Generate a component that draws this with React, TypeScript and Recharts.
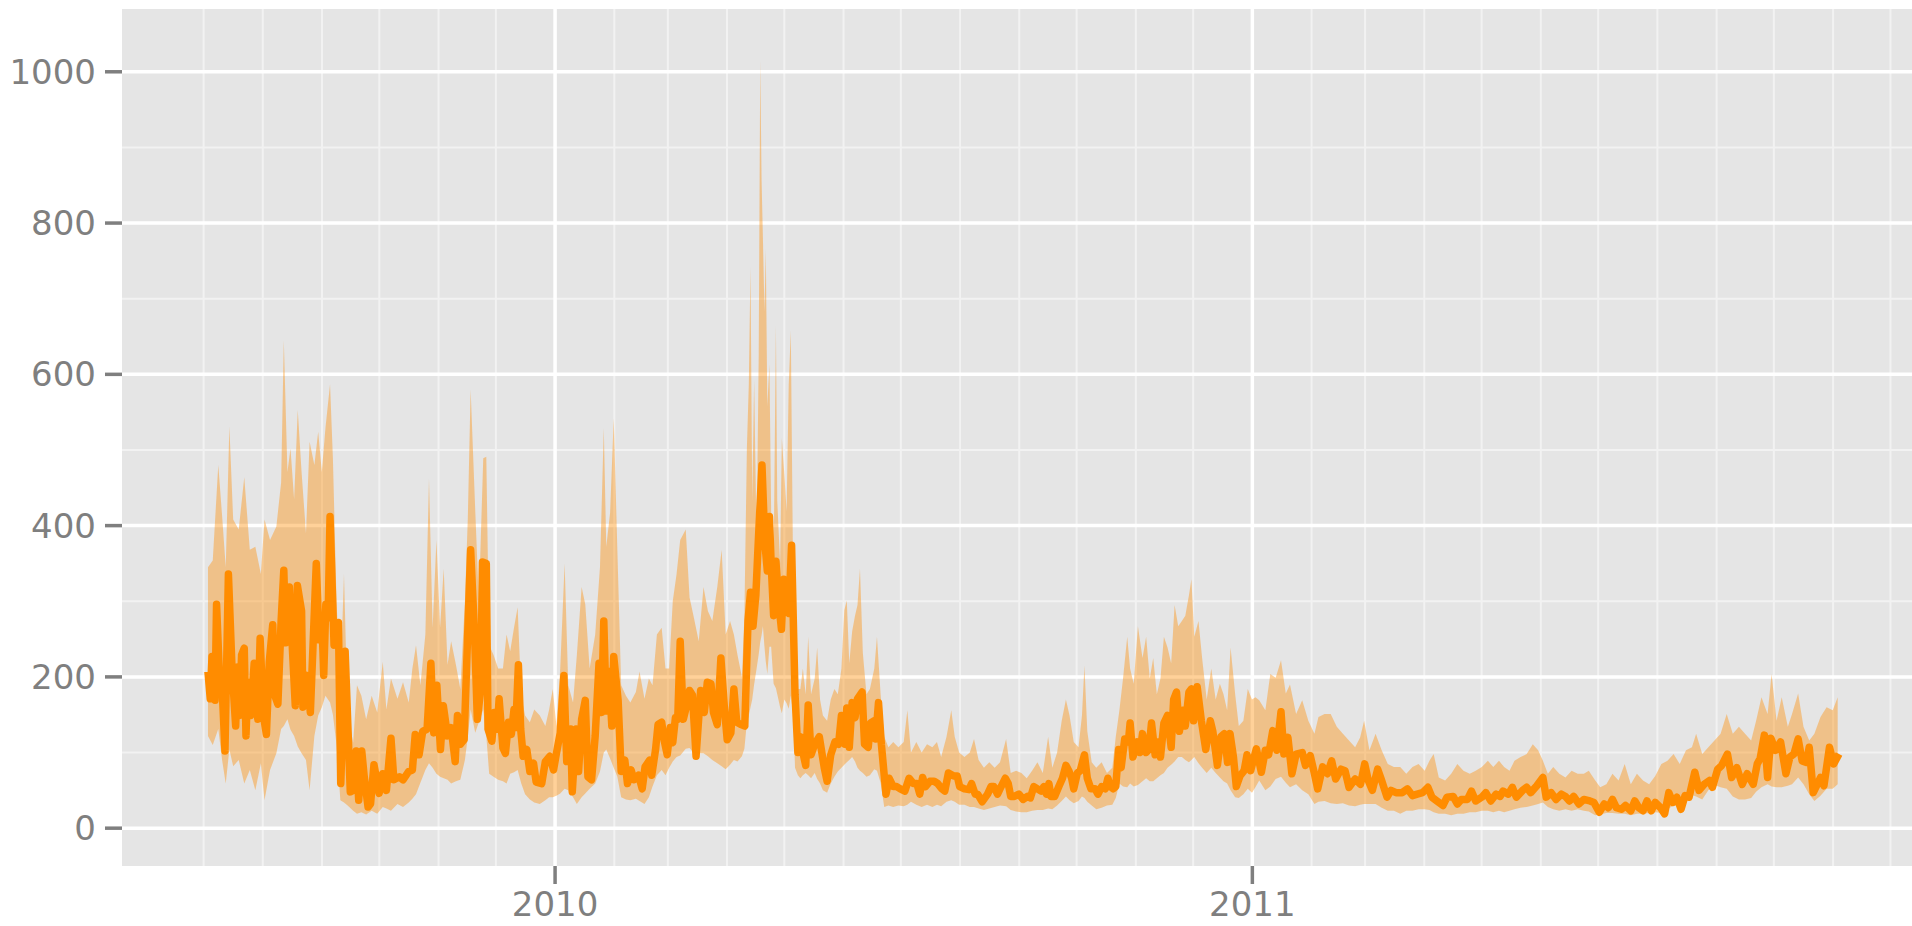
import { ComposedChart, Area, Line, XAxis, YAxis, CartesianGrid } from 'recharts';

// x values are days counted from 1 July 2009
const DAY0 = Date.UTC(2009, 6, 1);
const dayOf = (y: number, m: number) => (Date.UTC(y, m - 1, 1) - DAY0) / 86400000;

const yearTicks = [dayOf(2010, 1), dayOf(2011, 1)];
const yearLabels = ['2010', '2011'];
const monthLines = Array.from({ length: 30 }, (_, i) => dayOf(2009, 7 + i));
const yMajor = [0, 200, 400, 600, 800, 1000];
const yMinor = [100, 300, 500, 700, 900];

// band: [day, low, high]
const band2009: [number, number, number][] = [
  [2.3, 122, 345], [4.8, 110, 354], [7.7, 131, 480], [9.7, 90, 413], [11.6, 59, 345], [13.5, 104, 531],
  [15.5, 82, 408], [18.4, 90, 395], [21.3, 59, 464], [24.2, 77, 368], [27.1, 50, 372], [30.0, 86, 336],
  [31.9, 37, 408], [34.8, 77, 381], [38.1, 99, 399], [40.6, 131, 457], [42.0, 135, 645], [43.9, 144, 471],
  [45.5, 130, 502], [47.4, 122, 435], [49.3, 108, 553], [51.3, 99, 471], [53.6, 90, 390], [55.5, 50, 511],
  [58.0, 122, 480], [60.0, 149, 524], [61.9, 160, 471], [63.8, 175, 529], [66.2, 166, 587], [67.7, 150, 489],
  [69.6, 110, 300], [71.6, 37, 189], [73.5, 34, 336], [75.4, 30, 153], [78.3, 23, 113], [80.3, 19, 189],
  [82.6, 21, 175], [85.1, 18, 144], [88.0, 23, 175], [90.9, 19, 153], [93.8, 28, 220], [95.7, 26, 157],
  [98.1, 23, 198], [101.5, 32, 171], [104.4, 28, 193], [107.4, 34, 166], [109.3, 39, 211], [111.2, 45, 242],
  [113.5, 60, 189], [116.1, 77, 256], [118.0, 86, 462], [119.9, 80, 265], [121.9, 72, 381], [123.8, 68, 265],
  [125.7, 66, 343], [127.7, 64, 216], [129.6, 59, 247], [132.1, 62, 216], [134.4, 64, 184], [136.8, 90, 300],
  [138.3, 120, 408], [139.8, 157, 580], [142.2, 126, 421], [144.1, 140, 300], [146.4, 157, 489], [148.0, 122, 491],
  [149.5, 72, 242], [151.8, 68, 229], [154.2, 64, 211], [156.7, 62, 211], [158.6, 59, 256], [160.5, 72, 234],
  [162.5, 74, 265], [164.4, 77, 292], [166.3, 59, 175], [168.3, 45, 149], [170.8, 38, 140], [173.1, 34, 157],
  [176.0, 32, 149], [178.9, 37, 135], [180.9, 41, 157], [182.8, 41, 184],
];

const band2010: [number, number, number][] = [
  [184.7, 43, 135], [186.7, 46, 211], [189.0, 52, 350], [190.9, 50, 189], [193.4, 41, 166], [195.4, 32, 229],
  [197.9, 41, 319], [199.8, 46, 296], [202.1, 52, 211], [205.0, 59, 256], [207.5, 75, 345], [209.5, 100, 529],
  [210.8, 104, 372], [212.8, 92, 417], [214.7, 80, 542], [216.6, 68, 368], [218.6, 41, 189], [221.1, 38, 175],
  [223.4, 37, 166], [226.3, 39, 180], [228.2, 36, 207], [230.8, 32, 171], [233.1, 41, 198], [235.0, 55, 189],
  [237.3, 70, 256], [239.8, 77, 265], [241.8, 70, 211], [243.7, 80, 211], [245.6, 88, 300], [247.6, 94, 336],
  [249.5, 96, 381], [252.4, 105, 395], [254.4, 106, 305], [256.7, 99, 278], [259.2, 99, 247], [261.7, 99, 319],
  [264.0, 95, 287], [266.3, 90, 274], [268.9, 86, 319], [271.2, 82, 368], [273.3, 78, 256], [275.6, 84, 274],
  [277.6, 90, 256], [279.5, 88, 229], [281.8, 95, 200], [283.1, 105, 281], [284.4, 140, 502], [285.4, 149, 586],
  [286.3, 160, 742], [287.2, 170, 433], [288.2, 190, 593], [289.5, 211, 378], [290.6, 230, 627], [291.4, 246, 1015],
  [292.1, 255, 856], [292.8, 267, 780], [293.6, 240, 683], [294.3, 220, 766], [295.1, 204, 558], [296.2, 240, 613],
  [297.1, 240, 419], [298.4, 191, 350], [299.6, 185, 665], [300.3, 177, 433], [301.8, 160, 350], [302.7, 152, 516],
  [304.0, 170, 468], [305.2, 165, 419], [306.3, 158, 586], [307.4, 175, 658], [308.7, 150, 308], [309.6, 80, 204],
  [311.1, 70, 184], [312.4, 66, 184], [313.7, 70, 211], [315.2, 73, 177], [316.5, 70, 253], [318.0, 66, 177],
  [319.9, 73, 198], [321.2, 65, 239], [322.7, 59, 170], [324.2, 50, 149], [326.4, 47, 142], [328.3, 59, 170],
  [330.2, 68, 184], [332.0, 75, 177], [333.9, 80, 211], [335.4, 84, 288], [336.7, 87, 301], [338.0, 90, 218],
  [339.5, 94, 260], [341.0, 88, 281], [342.3, 80, 295], [343.6, 76, 343], [345.1, 73, 232], [347.0, 68, 177],
  [348.8, 70, 184], [351.1, 78, 211], [352.5, 76, 253], [354.4, 60, 177], [356.3, 28, 121], [358.5, 30, 107],
  [361.0, 28, 114], [363.7, 30, 107], [366.5, 29, 114], [368.4, 31, 156], [370.3, 35, 100], [373.1, 31, 114],
  [375.9, 28, 100], [378.7, 31, 111], [381.5, 28, 107], [383.9, 31, 114], [386.1, 29, 94], [388.9, 35, 121],
  [391.4, 37, 156], [393.2, 35, 121], [395.5, 31, 100], [398.3, 31, 94], [401.1, 28, 100], [403.3, 28, 118],
  [405.7, 26, 90], [408.5, 24, 80], [411.3, 26, 87], [414.1, 28, 80], [416.9, 30, 87], [420.1, 29, 118],
  [422.5, 24, 73], [425.3, 22, 76], [428.1, 21, 73], [430.9, 21, 66], [433.7, 23, 76], [436.5, 24, 87],
  [439.3, 24, 73], [442.1, 26, 121], [444.3, 25, 80], [446.8, 30, 100], [449.2, 36, 142], [451.4, 42, 170],
  [453.3, 37, 149], [455.5, 33, 114], [458.0, 36, 107], [459.8, 42, 149], [461.1, 40, 215], [462.6, 35, 128],
  [464.9, 30, 87], [467.3, 25, 80], [470.1, 27, 87], [472.9, 30, 73], [475.7, 31, 80], [477.5, 40, 121],
  [479.4, 59, 156], [481.3, 55, 198], [483.5, 54, 253], [485.0, 59, 211], [486.9, 55, 191], [489.1, 57, 267],
  [491.5, 62, 225], [493.4, 66, 253], [495.3, 62, 198], [497.1, 62, 225], [499.0, 66, 177], [500.9, 70, 198],
  [502.7, 73, 253], [504.6, 80, 239], [506.5, 84, 218], [508.3, 88, 295], [510.2, 94, 267], [512.1, 94, 274],
  [513.9, 90, 281], [515.8, 87, 308], [517.1, 90, 329], [518.6, 94, 253], [520.8, 86, 274], [522.7, 80, 225],
  [525.1, 73, 170], [527.5, 80, 211], [529.8, 73, 170], [532.0, 67, 191], [533.9, 62, 177], [535.8, 59, 156],
  [537.6, 50, 239], [540.0, 41, 177], [541.9, 40, 135], [544.3, 45, 142], [546.6, 52, 184], [548.8, 47, 170],
];

const band2011: [number, number, number][] = [
  [550.6, 54, 173], [552.6, 63, 169], [555.8, 50, 156], [558.4, 55, 204], [561.2, 65, 199], [564.0, 68, 222],
  [566.5, 60, 178], [568.7, 54, 190], [571.9, 58, 151], [575.1, 50, 169], [578.3, 45, 142], [581.5, 32, 125],
  [583.6, 35, 147], [586.8, 36, 151], [590.0, 33, 151], [593.2, 32, 134], [596.4, 33, 125], [599.6, 30, 116],
  [602.8, 29, 107], [605.4, 31, 120], [607.5, 32, 142], [610.3, 32, 103], [613.5, 32, 125], [616.7, 27, 103],
  [619.9, 23, 85], [623.1, 23, 81], [626.4, 19, 81], [629.6, 23, 72], [632.8, 23, 81], [636.0, 25, 85],
  [639.2, 25, 76], [641.7, 24, 89], [643.9, 21, 98], [646.6, 19, 67], [649.9, 19, 63], [653.1, 17, 72],
  [656.3, 19, 85], [659.5, 19, 76], [662.8, 21, 72], [665.9, 21, 76], [669.1, 23, 81], [672.3, 23, 89],
  [675.1, 21, 81], [678.1, 23, 89], [680.8, 21, 81], [683.6, 23, 76], [686.2, 25, 89], [689.4, 27, 94],
  [692.6, 28, 98], [695.8, 30, 111], [698.6, 32, 103], [701.1, 34, 89], [703.7, 28, 72], [706.5, 25, 81],
  [709.7, 23, 72], [712.9, 25, 67], [716.1, 23, 76], [719.3, 25, 72], [722.5, 23, 72], [725.1, 22, 76],
  [728.5, 17, 63], [731.1, 18, 54], [734.3, 20, 58], [737.5, 20, 72], [740.7, 19, 63], [743.9, 19, 85],
  [747.1, 17, 58], [750.3, 19, 72], [753.5, 19, 63], [756.7, 20, 58], [759.9, 21, 69], [763.1, 20, 85],
  [766.3, 25, 89], [769.5, 30, 98], [772.7, 30, 85], [776.0, 36, 103], [779.1, 44, 107], [781.3, 42, 125],
  [784.5, 38, 98], [787.7, 50, 107], [790.9, 57, 116], [794.1, 54, 125], [797.3, 52, 151], [800.5, 42, 125],
  [803.7, 38, 134], [806.9, 38, 125], [810.1, 40, 116], [812.7, 48, 142], [815.5, 54, 173], [818.7, 58, 151],
  [820.8, 55, 204], [823.4, 54, 142], [826.1, 54, 173], [829.3, 56, 134], [831.5, 58, 151], [834.7, 67, 178],
  [837.5, 58, 134], [840.5, 45, 116], [843.2, 36, 125], [846.4, 43, 147], [849.6, 52, 160], [852.8, 52, 156],
  [855.4, 58, 173],
];

// line: [day, value]
const mean2009: [number, number][] = [
  [2.3, 207], [3.5, 171], [4.4, 227], [6.0, 169], [6.8, 296], [8.3, 202], [9.5, 198], [11.2, 102], [13.0, 336],
  [14.9, 211], [16.8, 135], [17.8, 213], [18.8, 149], [19.9, 229], [21.3, 238], [22.2, 122], [23.2, 193],
  [24.6, 149], [26.5, 218], [28.4, 144], [29.6, 251], [31.3, 149], [32.9, 124], [34.4, 220], [36.2, 269],
  [37.3, 175], [38.9, 164], [40.6, 274], [42.0, 341], [43.1, 245], [44.9, 319], [46.4, 242], [48.0, 162],
  [49.1, 321], [51.3, 287], [52.0, 160], [54.0, 202], [55.9, 153], [59.0, 350], [60.5, 249], [61.9, 278],
  [62.9, 202], [64.0, 296], [65.2, 278], [66.2, 412], [68.3, 242], [70.6, 272], [71.8, 59], [74.1, 234],
  [76.8, 48], [78.3, 50], [79.9, 102], [81.2, 37], [82.8, 102], [84.1, 68], [86.1, 28], [87.4, 32], [89.2, 84],
  [91.9, 46], [93.8, 72], [95.7, 50], [98.1, 119], [99.6, 64], [102.5, 68], [104.4, 64], [107.4, 75], [109.3, 77],
  [110.8, 124], [112.8, 97], [114.7, 128], [117.0, 131], [119.0, 218], [120.5, 126], [122.1, 189], [124.0, 104],
  [125.5, 162], [127.7, 122], [129.6, 133], [131.7, 88], [132.9, 149], [134.4, 111], [136.4, 117], [138.3, 260],
  [139.8, 368], [141.8, 260], [143.3, 144], [145.1, 184], [146.0, 352], [148.0, 350], [148.9, 131], [150.9, 115],
  [152.2, 153], [153.8, 131], [154.7, 171], [156.7, 106], [158.0, 99], [159.6, 140], [161.1, 124], [162.5, 157],
  [163.4, 133], [164.8, 216], [166.0, 131], [167.3, 95], [169.2, 104], [170.8, 75], [172.7, 86], [174.1, 61],
  [177.0, 59], [178.9, 88], [181.2, 95], [183.2, 77],
];

const mean2010: [number, number][] = [
  [184.7, 99], [186.7, 126], [188.6, 202], [190.1, 88], [192.1, 131], [193.0, 48], [195.0, 131], [196.3, 75],
  [197.9, 144], [199.8, 169], [201.2, 68], [203.1, 64], [205.0, 122], [207.0, 218], [208.3, 153], [209.5, 274],
  [210.8, 155], [212.2, 207], [213.7, 135], [214.7, 227], [217.0, 169], [218.6, 75], [220.5, 90], [221.9, 59],
  [223.8, 77], [225.3, 64], [227.7, 70], [229.6, 52], [231.1, 81], [233.5, 90], [234.6, 70], [236.6, 104],
  [237.9, 137], [239.8, 140], [241.2, 115], [242.7, 97], [244.3, 133], [245.6, 113], [247.0, 146], [248.2, 144],
  [249.5, 247], [251.1, 144], [252.4, 157], [254.4, 182], [255.9, 176], [257.8, 95], [260.2, 182], [262.1, 153],
  [263.7, 193], [265.6, 191], [266.9, 153], [268.9, 137], [270.8, 225], [272.7, 157], [274.1, 117], [276.0, 126],
  [277.6, 184], [279.1, 140], [281.4, 137], [283.3, 135], [285.0, 274], [286.3, 312], [287.6, 267], [289.1, 308],
  [290.1, 364], [292.3, 480], [293.8, 378], [295.1, 340], [296.2, 412], [297.1, 350], [298.4, 281], [299.6, 353],
  [301.2, 295], [302.5, 263], [303.7, 329], [305.0, 288], [306.3, 284], [307.8, 374], [309.6, 177], [311.1, 100],
  [312.4, 121], [313.7, 100], [315.2, 83], [316.5, 163], [318.0, 97], [319.9, 111], [322.3, 121], [324.9, 80],
  [326.4, 62], [328.3, 97], [330.5, 114], [332.4, 111], [333.9, 149], [335.8, 111], [336.7, 159], [338.0, 107],
  [339.5, 166], [341.0, 146], [342.3, 171], [344.7, 180], [346.0, 111], [347.9, 107], [349.2, 139], [351.1, 142],
  [351.8, 118], [353.3, 166], [354.8, 111], [357.2, 45], [358.9, 66], [361.0, 55], [362.8, 55], [364.7, 52],
  [367.1, 49], [369.3, 66], [371.6, 59], [373.4, 59], [374.9, 45], [376.4, 67], [377.9, 55], [380.2, 62],
  [382.4, 62], [384.3, 59], [386.5, 52], [388.0, 49], [389.9, 73], [392.7, 69], [394.5, 69], [395.8, 55],
  [398.3, 52], [400.7, 51], [402.0, 59], [403.9, 45], [405.2, 45], [407.6, 35], [410.4, 45], [412.2, 55],
  [413.7, 55], [415.6, 45], [416.9, 52], [419.7, 66], [421.2, 59], [422.5, 42], [424.4, 42], [426.8, 45],
  [429.0, 38], [431.3, 42], [432.8, 40], [434.6, 55], [436.5, 52], [438.4, 49], [439.9, 55], [441.2, 45],
  [442.5, 59], [443.6, 42], [445.5, 42], [447.7, 55], [449.6, 66], [451.4, 83], [452.9, 76], [454.4, 66],
  [455.5, 52], [457.4, 73], [458.9, 76], [461.1, 97], [462.6, 66], [464.5, 52], [466.7, 52], [468.2, 45],
  [470.1, 55], [472.0, 52], [473.4, 66], [474.7, 55], [476.2, 52], [477.5, 55], [479.0, 104], [480.3, 80],
  [482.2, 118], [484.1, 114], [485.0, 139], [486.5, 94], [488.7, 114], [490.2, 100], [491.5, 125], [493.4, 100],
  [494.9, 104], [496.2, 139], [498.1, 97], [499.6, 114], [500.9, 94], [502.7, 139], [504.6, 149], [506.5, 107],
  [507.8, 170], [509.3, 180], [510.8, 128], [512.6, 156], [513.9, 135], [515.8, 180], [517.1, 184], [518.2, 142],
  [520.1, 187], [522.3, 142], [524.6, 104], [527.0, 142], [528.3, 128], [530.7, 83], [532.6, 121], [534.4, 125],
  [536.0, 87], [537.3, 125], [539.1, 94], [540.6, 55], [542.5, 69], [544.7, 76], [546.2, 97], [548.1, 76],
];

const mean2011: [number, number][] = [
  [551.1, 105], [553.7, 74], [555.8, 103], [557.5, 97], [559.7, 129], [561.8, 103], [564.0, 154], [565.5, 98],
  [567.6, 120], [569.7, 72], [571.9, 98], [575.1, 100], [576.8, 83], [579.3, 96], [581.5, 72], [583.2, 52],
  [585.8, 81], [588.3, 72], [590.5, 89], [592.6, 65], [595.4, 78], [597.5, 76], [599.6, 54], [602.8, 65],
  [605.6, 58], [607.8, 85], [609.7, 63], [611.8, 50], [614.6, 78], [616.7, 63], [619.5, 41], [621.6, 50],
  [624.2, 47], [627.4, 47], [630.2, 52], [632.8, 43], [635.3, 45], [638.1, 47], [640.9, 54], [643.0, 41],
  [645.6, 36], [648.8, 30], [650.9, 41], [654.1, 42], [656.3, 32], [658.4, 38], [661.6, 38], [663.7, 49],
  [665.9, 36], [669.1, 41], [671.2, 47], [673.8, 36], [676.6, 45], [678.7, 42], [680.2, 49], [683.0, 45],
  [685.1, 54], [687.2, 41], [690.5, 50], [692.6, 54], [694.7, 47], [697.9, 56], [701.1, 67], [702.8, 41],
  [705.4, 47], [708.0, 38], [710.8, 45], [712.9, 42], [715.0, 36], [717.2, 42], [719.9, 32], [722.5, 38],
  [725.7, 36], [727.8, 34], [730.6, 21], [733.2, 32], [735.3, 27], [737.5, 38], [739.6, 27], [742.2, 25],
  [744.3, 30], [747.1, 23], [749.2, 36], [751.3, 27], [753.5, 23], [755.6, 36], [757.8, 23], [759.9, 34],
  [762.7, 27], [764.8, 19], [767.0, 47], [769.1, 34], [771.2, 41], [773.4, 25], [775.5, 43], [777.6, 41],
  [780.6, 74], [782.8, 50], [785.5, 58], [788.3, 63], [789.8, 54], [792.6, 78], [794.7, 83], [797.7, 98],
  [799.9, 67], [802.6, 80], [805.4, 58], [808.0, 72], [811.2, 58], [813.3, 85], [814.8, 92], [817.0, 123],
  [818.7, 67], [820.4, 119], [822.9, 103], [825.5, 114], [828.3, 72], [830.4, 94], [832.5, 98], [834.7, 118],
  [836.8, 89], [839.0, 87], [840.5, 107], [842.6, 47], [844.7, 58], [846.4, 67], [848.2, 56], [851.1, 107],
  [853.3, 85], [856.1, 98],
];

const bandData = [...band2009, ...band2010, ...band2011].map(([day, lo, hi]) => ({ day, range: [lo, hi] }));
const meanData = [...mean2009, ...mean2010, ...mean2011].map(([day, value]) => ({ day, value }));

const textStyle = { fill: '#7F7F7F', fontSize: 34, fontFamily: 'DejaVu Sans' };
const tickStroke = { stroke: '#7F7F7F', strokeWidth: 3.5 };

export default function App() {
  return (
    <div style={{ width: 1912, height: 926 }}>
      <style>{'body{margin:0}'}</style>
      <ComposedChart width={1912} height={926} margin={{ top: 9, right: 0, bottom: 0, left: 0 }}>
        <CartesianGrid
          fill="#E5E5E5"
          stroke="#F2F2F2"
          strokeWidth={2}
          verticalValues={monthLines}
          horizontalValues={yMinor}
        />
        <CartesianGrid stroke="#FFFFFF" strokeWidth={3.5} verticalValues={yearTicks} horizontalValues={yMajor} />
        <XAxis
          type="number"
          dataKey="day"
          domain={[-42.7, 894.3]}
          allowDataOverflow
          ticks={yearTicks}
          interval={0}
          tickFormatter={(v: number) => yearLabels[yearTicks.indexOf(v)] ?? ''}
          height={60}
          tickSize={18}
          tickMargin={8}
          axisLine={false}
          tickLine={tickStroke}
          tick={textStyle}
        />
        <YAxis
          type="number"
          domain={[-50, 1083]}
          allowDataOverflow
          ticks={yMajor}
          interval={0}
          width={122}
          tickSize={17}
          tickMargin={9}
          axisLine={false}
          tickLine={tickStroke}
          tick={textStyle}
        />
        <Area
          data={bandData}
          dataKey="range"
          type="linear"
          stroke="none"
          fill="#FF8C00"
          fillOpacity={0.4}
          isAnimationActive={false}
        />
        <Line
          data={meanData}
          dataKey="value"
          type="linear"
          stroke="#FF8C00"
          strokeWidth={7.5}
          strokeLinejoin="round"
          dot={false}
          activeDot={false}
          isAnimationActive={false}
        />
      </ComposedChart>
    </div>
  );
}
